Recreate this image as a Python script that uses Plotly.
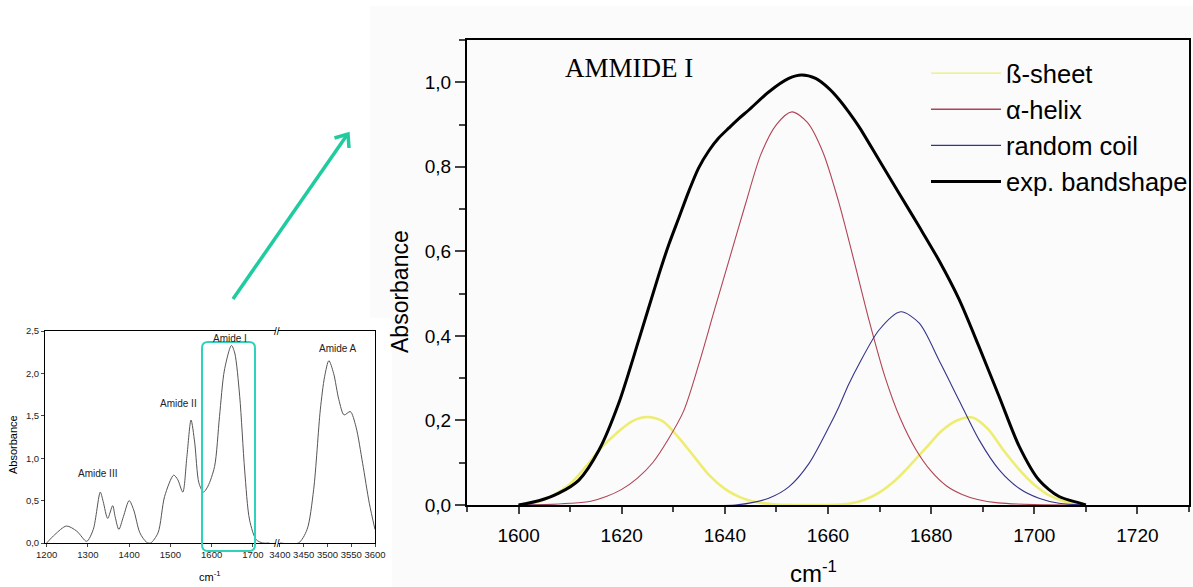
import plotly.graph_objects as go

W, H = 1193, 587

# ---------------- Main panel: AMMIDE I band deconvolution ----------------
beta_x = [1600, 1604, 1607, 1610, 1613, 1616, 1619, 1622, 1625, 1628, 1631, 1634, 1637, 1640, 1643, 1646, 1650, 1655,
          1660, 1664, 1667, 1670, 1673, 1676, 1679, 1682, 1685, 1688, 1691, 1694, 1697, 1700, 1703, 1706, 1710]
beta_y = [0.0, 0.008, 0.025, 0.05, 0.09, 0.135, 0.17, 0.198, 0.208, 0.198, 0.16, 0.115, 0.07, 0.038, 0.018, 0.007, 0.001, 0.0,
          0.0, 0.003, 0.012, 0.03, 0.058, 0.095, 0.135, 0.175, 0.2, 0.207, 0.18, 0.13, 0.085, 0.048, 0.022, 0.008, 0.0]

alpha_x = [1600, 1605, 1610, 1614, 1617, 1620, 1623, 1626, 1629, 1632, 1635, 1638, 1641, 1644, 1647, 1650, 1653,
           1656, 1659, 1662, 1665, 1668, 1671, 1674, 1677, 1680, 1683, 1686, 1689, 1693, 1700, 1710]
alpha_y = [0.0, 0.001, 0.004, 0.009, 0.02, 0.037, 0.063, 0.1, 0.155, 0.222, 0.335, 0.462, 0.587, 0.712, 0.83, 0.9, 0.93,
           0.905, 0.835, 0.72, 0.58, 0.435, 0.305, 0.205, 0.132, 0.08, 0.045, 0.025, 0.013, 0.005, 0.001, 0.0]

coil_x = [1600, 1642, 1645, 1648.5, 1652.4, 1656.3, 1660.2, 1662.1, 1664, 1666, 1669.9, 1674.1, 1677.7, 1681.5, 1685.4,
          1689.3, 1693.2, 1697.1, 1700.9, 1704.8, 1710]
coil_y = [0.0, 0.0, 0.005, 0.016, 0.043, 0.098, 0.185, 0.232, 0.285, 0.333, 0.414, 0.457, 0.43, 0.343, 0.248,
          0.154, 0.083, 0.039, 0.016, 0.004, 0.0]

exp_x = [1600, 1603.9, 1607.8, 1611.7, 1615.6, 1619.4, 1623.3, 1627.2, 1629.1, 1631.1, 1633, 1634.9, 1636.9, 1638.8,
         1640.8, 1642.7, 1644.7, 1648.5, 1652.4, 1654.9, 1657.6, 1660.2, 1662.1, 1664, 1666, 1669.9, 1673.8, 1677.7,
         1681.5, 1685.4, 1689.3, 1693.2, 1697.1, 1700.9, 1704.8, 1708.7, 1710]
exp_y = [0.0, 0.01, 0.028, 0.059, 0.13, 0.24, 0.39, 0.545, 0.615, 0.68, 0.742, 0.797, 0.838, 0.868,
         0.892, 0.914, 0.935, 0.977, 1.009, 1.017, 1.009, 0.985, 0.96, 0.93, 0.895, 0.816, 0.737, 0.658,
         0.579, 0.487, 0.374, 0.256, 0.138, 0.059, 0.02, 0.005, 0.0]

series_names = ["ß-sheet", "α-helix", "random coil", "exp. bandshape"]
main_xticks = [1600, 1620, 1640, 1660, 1680, 1700, 1720]
main_yticks = [0.0, 0.2, 0.4, 0.6, 0.8, 1.0]

# ---------------- Inset: full IR spectrum ----------------
ir_low_x = [1200, 1220, 1248, 1273, 1297, 1313, 1330, 1337, 1348, 1360, 1366, 1375, 1386, 1400, 1411, 1426, 1442, 1452,
            1470, 1486, 1508, 1518, 1530, 1540, 1550, 1559, 1569, 1580, 1591, 1607, 1619, 1631, 1648, 1656, 1668, 1680,
            1692, 1708, 1724, 1740]
ir_low_y = [0.0, 0.1, 0.2, 0.14, 0.02, 0.16, 0.6, 0.49, 0.29, 0.44, 0.31, 0.16, 0.31, 0.5, 0.39, 0.12, 0.01, 0.0,
            0.12, 0.55, 0.8, 0.745, 0.6, 1.02, 1.45, 1.18, 0.71, 0.6, 0.67, 0.9, 1.49, 2.04, 2.33, 2.24, 1.73, 0.86,
            0.27, 0.04, 0.0, 0.0]
ir_high_x = [3400, 3439, 3457, 3471, 3485, 3494, 3503, 3513, 3524, 3535, 3548, 3560, 3574, 3588, 3600]
ir_high_y = [0.0, 0.0, 0.157, 0.63, 1.57, 1.96, 2.15, 2.0, 1.69, 1.51, 1.55, 1.37, 0.94, 0.47, 0.16]

inset_low_ticks = [1200, 1300, 1400, 1500, 1600, 1700]
inset_high_ticks = [3400, 3450, 3500, 3550, 3600]
inset_yticks = [0.0, 0.5, 1.0, 1.5, 2.0, 2.5]
band_labels = ["Amide III", "Amide II", "Amide I", "Amide A"]
band_label_x = [1324, 1520, 1644, 3522]
band_label_y = [0.82, 1.65, 2.41, 2.29]


def px(x):
    return x / W


def py(y):
    return 1 - y / H


FONT = "Arial, Liberation Sans, sans-serif"
fig = go.Figure()

colors = ["#eded72", "#b04455", "#34348a", "#000000"]
curve_widths = [2.6, 1.1, 1.1, 3]
legend_widths = [1.4, 1.3, 1.3, 3]

# legend-only entries (thin sample lines as in the original key)
for i, name in enumerate(series_names):
    fig.add_trace(go.Scatter(x=[None], y=[None], name=name, mode="lines",
                             line=dict(color=colors[i], width=legend_widths[i]),
                             xaxis="x", yaxis="y", legendgroup=f"g{i}"))

for i, (xs, ys) in enumerate([(beta_x, beta_y), (alpha_x, alpha_y), (coil_x, coil_y), (exp_x, exp_y)]):
    fig.add_trace(go.Scatter(x=xs, y=ys, name=series_names[i], mode="lines", showlegend=False,
                             line=dict(shape="spline", smoothing=0.8, color=colors[i], width=curve_widths[i]),
                             xaxis="x", yaxis="y", legendgroup=f"g{i}"))

fig.add_trace(go.Scatter(x=ir_low_x, y=ir_low_y, mode="lines", showlegend=False,
                         line=dict(color="#555555", width=1, shape="spline", smoothing=0.8),
                         xaxis="x2", yaxis="y2"))
fig.add_trace(go.Scatter(x=ir_high_x, y=ir_high_y, mode="lines", showlegend=False,
                         line=dict(color="#555555", width=1, shape="spline", smoothing=0.8),
                         xaxis="x3", yaxis="y3"))

inset_dom_y = [py(543), py(331)]
axis_common = dict(showgrid=False, zeroline=False, showline=True, linecolor="black", automargin=False)

fig.update_layout(
    autosize=True, margin=dict(l=0, r=0, t=0, b=0, pad=0),
    paper_bgcolor="white", plot_bgcolor="rgba(0,0,0,0)",
    separators=",.",
    font=dict(family=FONT, color="black"),
    xaxis=dict(domain=[px(467), px(1189)], range=[1590, 1730], anchor="y",
               tickvals=main_xticks, tickformat="d", ticks="outside", ticklen=7, tickwidth=2,
               linewidth=2, mirror=True, tickfont=dict(size=19), ticklabelstandoff=5,
               minor=dict(dtick=10, tick0=1600, ticks="outside", ticklen=5, tickwidth=2),
               **axis_common),
    yaxis=dict(domain=[py(505), py(40)], range=[0, 1.1], anchor="x",
               tickvals=main_yticks, tickformat=".1f", ticks="outside", ticklen=10, tickwidth=2,
               linewidth=2, mirror=True, tickfont=dict(size=19),
               minor=dict(dtick=0.1, tick0=0, ticks="outside", ticklen=6, tickwidth=2),
               **axis_common),
    xaxis2=dict(domain=[px(45), px(276)], range=[1196, 1756], anchor="y2",
                tickvals=inset_low_ticks, tickformat="d", ticks="outside", ticklen=3, tickwidth=1,
                linewidth=1, mirror=True, tickfont=dict(size=9.5, color="#222"), **axis_common),
    yaxis2=dict(domain=inset_dom_y, range=[0, 2.5], anchor="x2",
                tickvals=inset_yticks, tickformat=".1f", ticks="outside", ticklen=3, tickwidth=1,
                linewidth=1, mirror=False, tickfont=dict(size=9.5, color="#222"), **axis_common),
    xaxis3=dict(domain=[px(277.5), px(375)], range=[3395, 3600], anchor="y3",
                tickvals=inset_high_ticks, tickformat="d", ticks="outside", ticklen=3, tickwidth=1,
                linewidth=1, mirror=True, tickfont=dict(size=9.5, color="#222"), **axis_common),
    yaxis3=dict(domain=inset_dom_y, range=[0, 2.5], anchor="x3", side="right",
                showticklabels=False, ticks="", linewidth=1, **axis_common),
    legend=dict(x=1.0, y=py(50), xanchor="right", yanchor="top", bgcolor="rgba(0,0,0,0)",
                font=dict(size=25.5, family=FONT), itemwidth=70, traceorder="grouped", tracegroupgap=0),
)

annotations = [
    dict(text="AMMIDE I", x=px(563), y=py(68), xanchor="left", yanchor="middle",
         font=dict(family="Liberation Serif, Times New Roman, serif", size=27)),
    dict(text="Absorbance", x=px(400), y=py(292), textangle=-90, font=dict(size=23)),
    dict(text="cm<sup>-1</sup>", x=px(813), y=py(572), font=dict(size=24)),
    dict(text="Absorbance", x=px(13), y=py(445), textangle=-90, font=dict(size=11)),
    dict(text="cm<sup>-1</sup>", x=px(210), y=py(576), font=dict(size=11)),
    dict(text="//", x=px(277), y=py(331), font=dict(size=10)),
    dict(text="//", x=px(277), y=py(543), font=dict(size=10)),
]
for a in annotations:
    a.setdefault("xanchor", "center")
    a.setdefault("yanchor", "middle")
    a.update(xref="paper", yref="paper", showarrow=False)
for i, lab in enumerate(band_labels):
    ax = "x3" if i == 3 else "x2"
    ay = "y3" if i == 3 else "y2"
    annotations.append(dict(text=lab, x=band_label_x[i], y=band_label_y[i], xref=ax, yref=ay,
                            xanchor="center", yanchor="middle",
                            showarrow=False, font=dict(size=10, color="#222")))
fig.update_layout(annotations=annotations)


# teal rounded box on the inset and teal arrow
def rounded_rect(x0, y0, x1, y1, r):
    return (f"M {px(x0 + r)} {py(y0)} L {px(x1 - r)} {py(y0)} Q {px(x1)} {py(y0)} {px(x1)} {py(y0 + r)} "
            f"L {px(x1)} {py(y1 - r)} Q {px(x1)} {py(y1)} {px(x1 - r)} {py(y1)} "
            f"L {px(x0 + r)} {py(y1)} Q {px(x0)} {py(y1)} {px(x0)} {py(y1 - r)} "
            f"L {px(x0)} {py(y0 + r)} Q {px(x0)} {py(y0)} {px(x0 + r)} {py(y0)} Z")


TEAL = "#2fd4b8"
ARROW = "#1fcb9f"
panel_bg = (f"M {px(370)} {py(6)} L {px(1193)} {py(6)} L {px(1193)} {py(587)} L {px(392)} {py(587)} "
            f"L {px(392)} {py(318)} L {px(370)} {py(318)} Z")
shapes = [
    dict(type="path", xref="paper", yref="paper", path=panel_bg, layer="below",
         fillcolor="#fbfbfb", line=dict(width=0)),
    dict(type="path", xref="paper", yref="paper", path=rounded_rect(202, 342, 255, 551, 6),
         line=dict(color=TEAL, width=2)),
    dict(type="path", xref="paper", yref="paper",
         path=f"M {px(233)} {py(299)} L {px(347)} {py(135)}", line=dict(color=ARROW, width=3.5)),
    dict(type="path", xref="paper", yref="paper",
         path=f"M {px(334.5)} {py(138)} L {px(348)} {py(134)} L {px(349)} {py(148)}",
         line=dict(color=ARROW, width=3.5)),
]
fig.update_layout(shapes=shapes)

fig.write_html(
    "out.html",
    default_width="100vw",
    default_height="100vh",
    config={"displayModeBar": False, "responsive": True},
    post_script=("document.documentElement.style.margin='0';document.body.style.margin='0';"
                 "document.body.style.overflow='hidden';"
                 "Plotly.Plots.resize(document.getElementById('{plot_id}'));"),
)
